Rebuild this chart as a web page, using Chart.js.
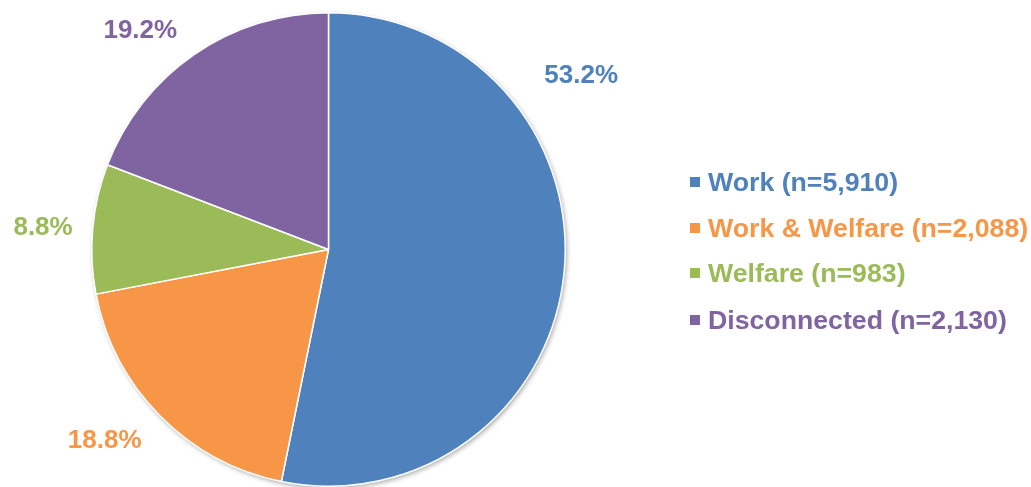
<!DOCTYPE html>
<html>
<head>
<meta charset="utf-8">
<script src="https://cdn.jsdelivr.net/npm/chart.js@4.4.0/dist/chart.umd.min.js"></script>
<style>
  html, body { margin: 0; padding: 0; background: #ffffff; }
  #wrap { position: relative; width: 1031px; height: 487px; overflow: hidden; }
  #c { position: absolute; left: 0; top: 0; }
  #legend { position: absolute; left: 690px; top: 0; font-family: "Liberation Sans", Arial, sans-serif; font-weight: bold; font-size: 26.7px; }
  .item { position: absolute; left: 0; white-space: nowrap; line-height: 30px; height: 30px; }
  .box { position: absolute; left: 0; top: 10px; width: 10px; height: 10px; }
  .txt { position: absolute; left: 18px; top: 0; }
</style>
</head>
<body>
<div id="wrap">
  <canvas id="c" width="1031" height="487"></canvas>
  <div id="legend"></div>
</div>
<script>
const categories = ["Work (n=5,910)", "Work & Welfare (n=2,088)", "Welfare (n=983)", "Disconnected (n=2,130)"];
const counts = [5910, 2088, 983, 2130];
const percentLabels = ["53.2%", "18.8%", "8.8%", "19.2%"];
const colors = ["#4F81BD", "#F79646", "#9BBB59", "#8064A2"];

// label placement: angle shift from slice middle (degrees) and radial factor
const labelShift = [-40.3, 4.1, -0.8, -6.2];
const labelRadial = [1.296, 1.245, 1.209, 1.219];

const legendTops = [167, 213, 258, 305];

const legend = document.getElementById('legend');
categories.forEach((name, i) => {
  const d = document.createElement('div');
  d.className = 'item';
  d.style.top = legendTops[i] + 'px';
  d.style.color = colors[i];
  d.innerHTML = '<span class="box" style="background:' + colors[i] + '"></span><span class="txt"></span>';
  d.querySelector('.txt').textContent = name;
  legend.appendChild(d);
});

const shadowPlugin = {
  id: 'pieShadow',
  beforeDatasetsDraw(chart) {
    const arc = chart.getDatasetMeta(0).data[0];
    if (!arc) return;
    const ctx = chart.ctx;
    ctx.save();
    ctx.shadowColor = 'rgba(0,0,0,0.35)';
    ctx.shadowBlur = 5;
    ctx.shadowOffsetX = 1.5;
    ctx.shadowOffsetY = 2;
    ctx.beginPath();
    ctx.arc(arc.x, arc.y, arc.outerRadius, 0, Math.PI * 2);
    ctx.fillStyle = '#ffffff';
    ctx.fill();
    ctx.restore();
  }
};

const labelPlugin = {
  id: 'outLabels',
  afterDatasetsDraw(chart) {
    const ctx = chart.ctx;
    const meta = chart.getDatasetMeta(0);
    ctx.save();
    ctx.font = 'bold 26px "Liberation Sans", Arial, sans-serif';
    ctx.textAlign = 'center';
    ctx.textBaseline = 'middle';
    meta.data.forEach((arc, i) => {
      const mid = (arc.startAngle + arc.endAngle) / 2 + labelShift[i] * Math.PI / 180;
      const r = arc.outerRadius * labelRadial[i];
      const x = arc.x + Math.cos(mid) * r;
      const y = arc.y + Math.sin(mid) * r;
      ctx.fillStyle = colors[i];
      ctx.fillText(percentLabels[i], x, y);
    });
    ctx.restore();
  }
};

new Chart(document.getElementById('c'), {
  type: 'pie',
  data: {
    labels: categories,
    datasets: [{
      data: counts,
      backgroundColor: colors,
      borderColor: '#ffffff',
      borderWidth: 1.5
    }]
  },
  options: {
    responsive: false,
    animation: false,
    events: [],
    layout: { padding: { left: 90, right: 464, top: 12, bottom: 0 } },
    plugins: {
      legend: { display: false },
      tooltip: { enabled: false }
    }
  },
  plugins: [shadowPlugin, labelPlugin]
});
</script>
</body>
</html>
